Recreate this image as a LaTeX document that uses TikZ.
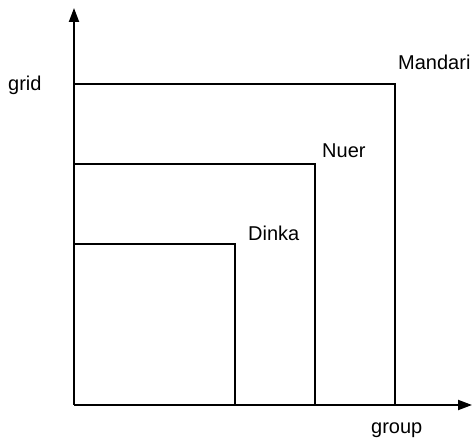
\documentclass[tikz,border=0pt]{standalone}
\usepackage{fontspec}
\setmainfont{Liberation Sans}
\usetikzlibrary{arrows.meta}
\begin{document}
\begin{tikzpicture}[x=1pt,y=-1pt,
  axis/.style={line width=2pt,-{Triangle[length=14pt,width=10pt]}},
  boxline/.style={line width=2pt},
  lbl/.style={font=\fontsize{20}{24}\selectfont,inner sep=0pt}]
\useasboundingbox (0,0) rectangle (475,441);
\coordinate (O) at (74,405);
\coordinate (ytop) at (74,8);
\coordinate (xend) at (472,405);
\draw[axis] (O) -- (ytop);
\draw[axis] (O) -- (xend);
\coordinate (m1) at (74,84);
\coordinate (m2) at (395,84);
\coordinate (m3) at (395,405);
\coordinate (n1) at (74,164);
\coordinate (n2) at (315,164);
\coordinate (n3) at (315,405);
\coordinate (d1) at (74,244);
\coordinate (d2) at (235,244);
\coordinate (d3) at (235,405);
\draw[boxline] (m1) -- (m2) -- (m3);
\draw[boxline] (n1) -- (n2) -- (n3);
\draw[boxline] (d1) -- (d2) -- (d3);
\node[lbl,anchor=west] (grid) at (8,85) {grid};
\node[lbl,anchor=west] (mandari) at (398,62) {Mandari};
\node[lbl,anchor=west] (nuer) at (322,151) {Nuer};
\node[lbl,anchor=west] (dinka) at (248,233) {Dinka};
\node[lbl,anchor=west] (group) at (371,430) {group};
\end{tikzpicture}
\end{document}
